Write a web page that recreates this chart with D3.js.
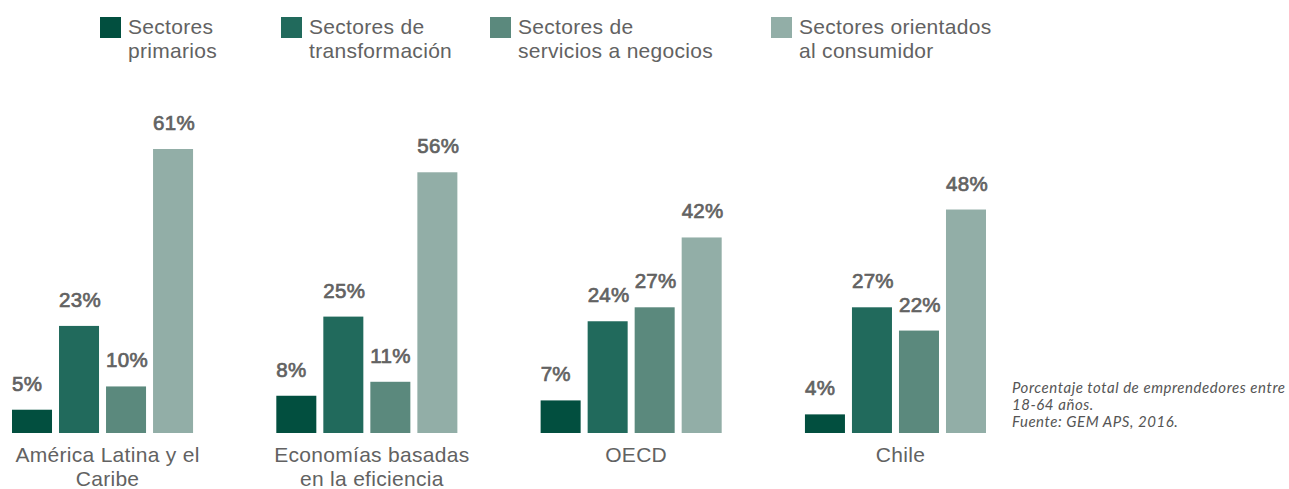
<!DOCTYPE html>
<html>
<head>
<meta charset="utf-8">
<script src="https://cdn.jsdelivr.net/npm/d3@7"></script>
<style>
  html, body { margin: 0; padding: 0; background: #fff; }
  svg { display: block; }
</style>
</head>
<body>
<svg id="chart" width="1289" height="489"></svg>
<script>
// Regions compared
const categories = [
  ["América Latina y el", "Caribe"],
  ["Economías basadas", "en la eficiencia"],
  ["OECD"],
  ["Chile"]
];
const categoryKeys = ["alc", "eff", "oecd", "chile"];

// Sector groups (legend entries)
const series = [
  ["Sectores", "primarios"],
  ["Sectores de", "transformación"],
  ["Sectores de", "servicios a negocios"],
  ["Sectores orientados", "al consumidor"]
];
const seriesKeys = ["prim", "trans", "serv", "cons"];
const colors = ["#024f3f", "#216a5c", "#5b897d", "#92aea7"];

// Percentage of entrepreneurs in each sector, per region
const primarios      = [5, 8, 7, 4];
const transformacion = [23, 25, 24, 27];
const servicios      = [10, 11, 27, 22];
const consumidor     = [61, 56, 42, 48];
const values = [primarios, transformacion, servicios, consumidor];

const footnote = [
  "Porcentaje total de emprendedores entre",
  "18-64 años.",
  "Fuente: GEM APS, 2016."
];

const svg = d3.select("#chart");
const textColor = "#626262";
const font = "'Liberation Sans', Arial, Helvetica, sans-serif";

const x0 = d3.scaleBand().domain(categoryKeys).range([12, 986]).paddingInner(0.315).paddingOuter(0);
const x1 = d3.scaleBand().domain(seriesKeys).range([0, x0.bandwidth()]).paddingInner(0.149).paddingOuter(0);
const y = d3.scaleLinear().domain([0, 61]).range([433, 149]);

const groups = svg.selectAll("g.group")
  .data(categoryKeys)
  .join("g")
  .attr("class", "group")
  .attr("transform", d => `translate(${x0(d)},0)`);

groups.each(function(cat, ci) {
  const g = d3.select(this);
  const rows = seriesKeys.map((s, si) => ({ s, si, v: values[si][ci] }));
  g.selectAll("rect")
    .data(rows)
    .join("rect")
    .attr("x", d => x1(d.s))
    .attr("y", d => y(d.v))
    .attr("width", x1.bandwidth())
    .attr("height", d => y(0) - y(d.v))
    .attr("fill", d => colors[d.si]);
  // value labels: regular face with a thin outline for a medium weight
  g.selectAll("text.val")
    .data(rows)
    .join("text")
    .attr("class", "val")
    .attr("x", d => x1(d.s))
    .attr("y", d => y(d.v) - 19)
    .attr("font-family", font)
    .attr("font-size", 20.5)
    .attr("letter-spacing", 0.3)
    .attr("fill", textColor)
    .attr("stroke", textColor)
    .attr("stroke-width", 0.7)
    .text(d => d.v + "%");
  const cx = x0.bandwidth() / 2 + 5;
  const lab = g.append("text")
    .attr("x", cx)
    .attr("y", 462)
    .attr("text-anchor", "middle")
    .attr("font-family", font)
    .attr("font-size", 21)
    .attr("letter-spacing", 0.3)
    .attr("fill", textColor);
  categories[ci].forEach((line, li) => {
    lab.append("tspan").attr("x", cx).attr("dy", li === 0 ? 0 : 24).text(line);
  });
});

// Legend
const legendX = d3.scaleOrdinal().domain(seriesKeys).range([100, 281, 490, 771]);
const legend = svg.selectAll("g.legend")
  .data(seriesKeys)
  .join("g")
  .attr("class", "legend")
  .attr("transform", d => `translate(${legendX(d)},17)`);
legend.append("rect")
  .attr("width", 21).attr("height", 21)
  .attr("fill", (d, i) => colors[i]);
legend.each(function(d, i) {
  const t = d3.select(this).append("text")
    .attr("x", 28).attr("y", 17)
    .attr("font-family", font)
    .attr("font-size", 21)
    .attr("letter-spacing", 0.3)
    .attr("fill", textColor);
  series[i].forEach((line, li) => {
    t.append("tspan").attr("x", 28).attr("dy", li === 0 ? 0 : 24).text(line);
  });
});

// Source note
const note = svg.append("text")
  .attr("x", 1012).attr("y", 393)
  .attr("font-family", "Lato, 'Open Sans', sans-serif")
  .attr("font-style", "italic")
  .attr("font-size", 15)
  .attr("letter-spacing", 0.55)
  .attr("fill", "#555");
footnote.forEach((line, li) => {
  note.append("tspan").attr("x", 1012).attr("dy", li === 0 ? 0 : 17).text(line);
});
</script>
</body>
</html>
